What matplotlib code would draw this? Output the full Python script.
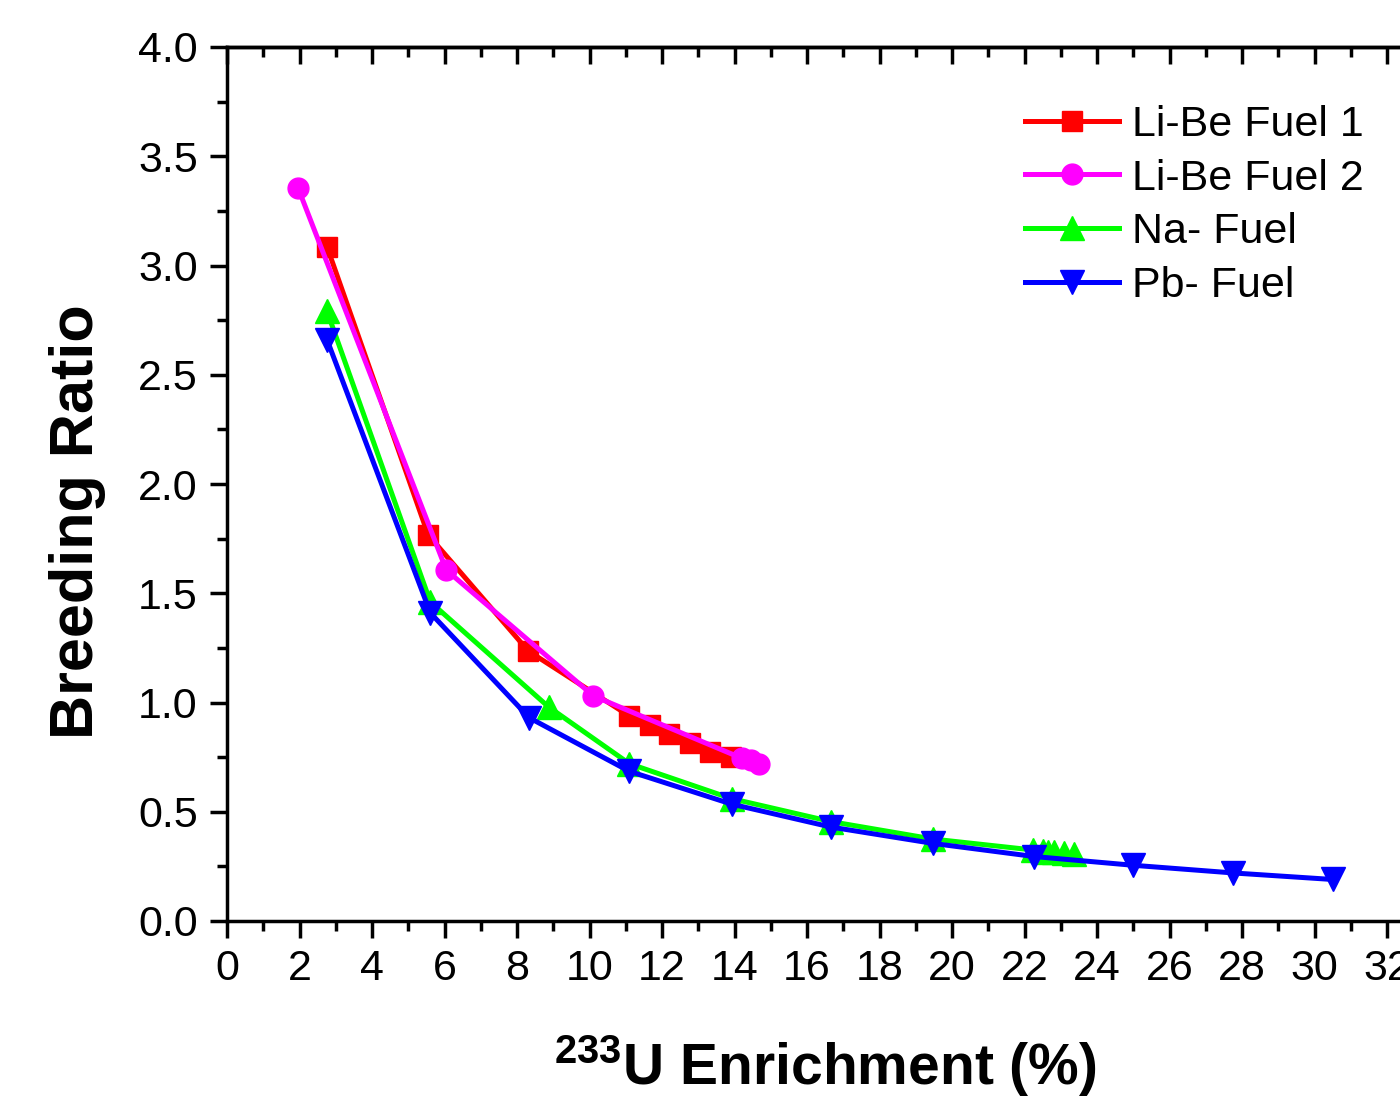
import matplotlib.pyplot as plt
from matplotlib.ticker import MultipleLocator

plt.rcParams['font.family'] = ['Liberation Sans', 'DejaVu Sans']
plt.rcParams['mathtext.fontset'] = 'custom'
plt.rcParams['mathtext.rm'] = 'Liberation Sans'
plt.rcParams['mathtext.bf'] = 'Liberation Sans:bold'

# data
x_libe1 = [2.76, 5.55, 8.31, 11.1, 11.66, 12.2, 12.76, 13.32, 13.9]
y_libe1 = [3.085, 1.767, 1.236, 0.938, 0.897, 0.855, 0.815, 0.775, 0.75]

x_libe2 = [1.96, 6.05, 10.11, 14.2, 14.45, 14.67]
y_libe2 = [3.355, 1.606, 1.03, 0.745, 0.735, 0.72]

x_na = [2.76, 5.61, 8.87, 11.1, 13.92, 16.66, 19.48, 22.23, 22.5, 22.65, 22.8, 23.1, 23.37]
y_na = [2.79, 1.46, 0.98, 0.72, 0.56, 0.455, 0.375, 0.325, 0.322, 0.318, 0.315, 0.31, 0.305]

x_pb = [2.76, 5.61, 8.34, 11.1, 13.92, 16.66, 19.48, 22.27, 25.0, 27.75, 30.5]
y_pb = [2.66, 1.41, 0.93, 0.685, 0.535, 0.43, 0.355, 0.295, 0.255, 0.22, 0.19]

fig = plt.figure(figsize=(14, 10.98), dpi=100)
ax = fig.add_axes([227/1400, 1 - 921/1098, 33*36.25/1400, (921-47)/1098])

lw = 3.6
ax.plot(x_libe1, y_libe1, color='red', marker='s', ms=15, lw=lw, label='Li-Be Fuel 1')
ax.plot(x_libe2, y_libe2, color='magenta', marker='o', ms=15, lw=lw, label='Li-Be Fuel 2')
ax.plot(x_na, y_na, color='#00ff00', marker='^', ms=17, lw=lw, label='Na- Fuel')
ax.plot(x_pb, y_pb, color='blue', marker='v', ms=17, lw=lw, label='Pb- Fuel')

ax.set_xlim(0, 33)
ax.set_ylim(0, 4.0)
ax.xaxis.set_major_locator(MultipleLocator(2))
ax.xaxis.set_minor_locator(MultipleLocator(1))
ax.yaxis.set_major_locator(MultipleLocator(0.5))
ax.yaxis.set_minor_locator(MultipleLocator(0.25))
ax.yaxis.set_major_formatter(plt.FormatStrFormatter('%.1f'))

for s in ['left', 'bottom', 'top']:
    ax.spines[s].set_linewidth(2.5)
ax.spines['right'].set_visible(False)

ax.tick_params(which='both', direction='out', width=2.5, labelsize=31, top=False)
ax.tick_params(which='major', length=12)
ax.tick_params(which='minor', length=7)
ax.tick_params(axis='x', which='major', pad=8)
ax.tick_params(axis='y', which='major', pad=9)

# top axis ticks hanging into the plot
sec = ax.secondary_xaxis('top')
sec.xaxis.set_major_locator(MultipleLocator(2))
sec.xaxis.set_minor_locator(MultipleLocator(1))
sec.tick_params(which='both', direction='in', width=2.5, labeltop=False)
sec.tick_params(which='major', length=12)
sec.tick_params(which='minor', length=7)
sec.spines['top'].set_linewidth(2.5)

ax.set_ylabel('Breeding Ratio', fontsize=44, fontweight='bold')
ax.yaxis.set_label_coords(-0.101, 0.457)
ax.set_xlabel(r'$\mathbf{^{233}}$U Enrichment (%)', fontsize=41, fontweight='bold', labelpad=32)

ax.legend(loc='upper left', bbox_to_anchor=(986/1400, 1 - 66/1098),
          bbox_transform=fig.transFigure, frameon=False, fontsize=31,
          handlelength=2.2, handletextpad=0.3, labelspacing=0.32)

fig.savefig('out.png', dpi=100)
